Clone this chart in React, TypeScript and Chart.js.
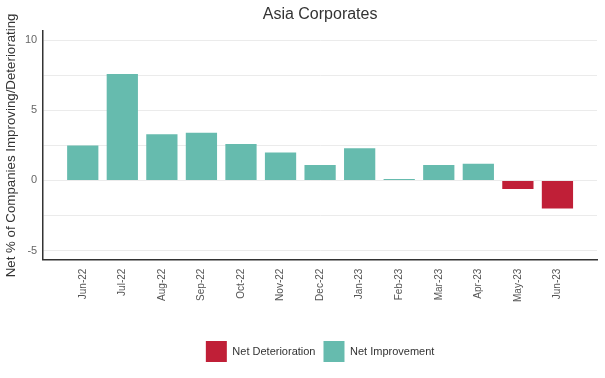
import React, { useEffect, useRef } from "react";
import { Chart, registerables } from "chart.js";

Chart.register(...registerables);

const categories = ["", "Jun-22", "Jul-22", "Aug-22", "Sep-22", "Oct-22", "Nov-22", "Dec-22", "Jan-23", "Feb-23", "Mar-23", "Apr-23", "May-23", "Jun-23", ""];
const netValues = [null, 2.5, 7.6, 3.3, 3.4, 2.6, 2.0, 1.1, 2.3, 0.1, 1.1, 1.2, -0.6, -2.0, null];
const yTickLabels = [-5, 0, 5, 10];

const deterioration = netValues.map((v) => (v !== null && v < 0 ? v : null));
const improvement = netValues.map((v) => (v !== null && v >= 0 ? v : null));

const FONT = "'Liberation Sans', Arial, sans-serif";

export default function App() {
  const ref = useRef<HTMLCanvasElement>(null);
  useEffect(() => {
    document.body.style.margin = "0";
    const chart = new Chart(ref.current!, {
      type: "bar",
      data: {
        labels: categories,
        datasets: [
          { label: "Net Deterioration", data: deterioration, backgroundColor: "#C01F37", borderWidth: 0 },
          { label: "Net Improvement", data: improvement, backgroundColor: "#66BBAE", borderWidth: 0 },
        ],
      },
      options: {
        animation: false,
        responsive: false,
        maintainAspectRatio: false,
        barPercentage: 0.79,
        categoryPercentage: 1,
        layout: { padding: { left: 3, right: 8, top: 0, bottom: 6 } },
        plugins: {
          title: {
            display: true,
            fullSize: false,
            text: "Asia Corporates",
            color: "#333",
            font: { family: FONT, size: 16, weight: "normal" },
            padding: { top: 5, bottom: 7 },
          },
          legend: {
            position: "bottom",
            fullSize: false,
            labels: {
              boxWidth: 21,
              boxHeight: 21,
              color: "#333",
              font: { family: FONT, size: 11 },
              padding: 8,
            },
          },
          tooltip: { enabled: false },
        },
        scales: {
          x: {
            stacked: true,
            offset: false,
            grid: { display: false, offset: false },
            border: { display: true, color: "#333", width: 1.5 },
            afterFit: (scale: any) => {
              scale.height += 30;
              scale.paddingRight = 0;
              scale.paddingLeft = 0;
            },
            ticks: {
              autoSkip: false,
              minRotation: 90,
              maxRotation: 90,
              color: "#555",
              font: { family: FONT, size: 10 },
              padding: 1,
            },
          },
          y: {
            stacked: true,
            min: -5.65,
            max: 10.65,
            title: {
              display: true,
              text: "Net % of Companies Improving/Deteriorating",
              color: "#333",
              font: { family: FONT, size: 13.3 },
              padding: 0,
            },
            grid: { color: "#ebebeb", drawTicks: false },
            border: { display: true, color: "#333", width: 1.5 },
            ticks: {
              stepSize: 2.5,
              includeBounds: false,
              color: "#666",
              font: { family: FONT, size: 11 },
              padding: 6,
              callback: (v: any) => (yTickLabels.includes(Number(v)) ? String(v) : ""),
            },
          },
        },
      },
    });
    return () => chart.destroy();
  }, []);
  return (
    <div style={{ width: 605, height: 378 }}>
      <canvas ref={ref} width={605} height={378} style={{ display: "block" }} />
    </div>
  );
}
